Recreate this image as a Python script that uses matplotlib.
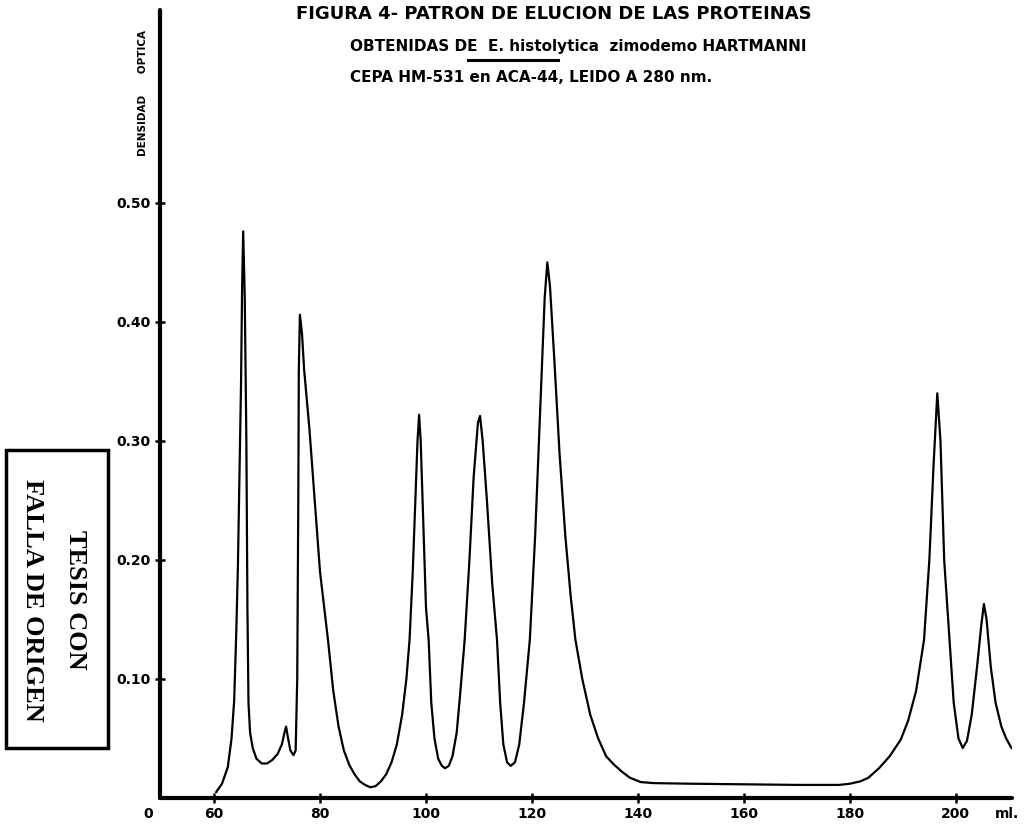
import matplotlib
matplotlib.use("Agg")
import matplotlib.pyplot as plt
from matplotlib.patches import Rectangle

# ── Data ────────────────────────────────────────────────────────────────────
volume_ml = [
    60.4, 61.5, 62.6, 63.3, 63.8, 64.2, 64.5, 64.8, 65.1, 65.3, 65.5, 65.8,
    66.1, 66.3, 66.5, 66.8, 67.3, 68.0, 69.0, 70.0, 71.0, 72.0, 72.8, 73.3,
    73.6, 73.9, 74.4, 75.0, 75.4, 75.7, 75.9, 76.0, 76.2, 76.6, 77.0, 78.0,
    79.0, 80.0, 81.5, 82.5, 83.5, 84.5, 85.5, 86.5, 87.5, 88.5, 89.5, 90.5,
    91.5, 92.5, 93.5, 94.5, 95.5, 96.3, 96.9, 97.5, 98.0, 98.4, 98.7, 99.0,
    99.5, 100.0, 100.5, 101.0, 101.6, 102.3, 103.0, 103.6, 104.3, 105.0,
    105.8, 106.5, 107.3, 108.2, 109.0, 109.8, 110.2, 110.7, 111.5, 112.5,
    113.4, 114.0, 114.6, 115.3, 116.0, 116.8, 117.6, 118.5, 119.6, 120.6,
    121.6, 122.4, 122.9, 123.4, 124.2, 125.2, 126.3, 127.3, 128.2, 129.5,
    131.0, 132.5, 134.0, 135.5, 137.0, 138.5, 140.5, 143.0, 150.0, 160.0,
    170.0, 178.0, 180.0, 182.0, 183.5, 185.5, 187.5, 189.6, 191.0, 192.5,
    194.0, 195.0, 195.8, 196.5, 197.1, 197.8, 198.8, 199.6, 200.5, 201.3,
    202.1, 203.0, 204.0, 204.8, 205.3, 205.8, 206.6, 207.5, 208.6, 209.5,
    210.5,
]
absorbance = [
    0.005, 0.012, 0.026, 0.050, 0.082, 0.140, 0.194, 0.270, 0.350, 0.430, 0.476, 0.420,
    0.300, 0.160, 0.080, 0.055, 0.042, 0.033, 0.029, 0.029, 0.032, 0.037, 0.045, 0.055,
    0.060, 0.052, 0.040, 0.036, 0.040, 0.100, 0.250, 0.360, 0.406, 0.390, 0.360, 0.310,
    0.250, 0.190, 0.133, 0.090, 0.060, 0.040, 0.028, 0.020, 0.014, 0.011, 0.009, 0.010,
    0.014, 0.020, 0.030, 0.045, 0.070, 0.100, 0.133, 0.190, 0.250, 0.300, 0.322, 0.300,
    0.230, 0.160, 0.133, 0.080, 0.050, 0.033, 0.027, 0.025, 0.027, 0.035,
    0.055, 0.090, 0.133, 0.200, 0.270, 0.315, 0.321, 0.300, 0.250, 0.180,
    0.133, 0.080, 0.045, 0.030, 0.027, 0.030, 0.045, 0.080, 0.133, 0.220,
    0.330, 0.420, 0.450, 0.430, 0.370, 0.290, 0.220, 0.170, 0.133, 0.100,
    0.070, 0.050, 0.035, 0.028, 0.022, 0.017, 0.0134, 0.0125, 0.012, 0.0115,
    0.011, 0.011, 0.012, 0.014, 0.017, 0.025, 0.035, 0.049, 0.065, 0.090,
    0.133, 0.200, 0.280, 0.340, 0.300, 0.200, 0.133, 0.080, 0.050, 0.042,
    0.048, 0.070, 0.110, 0.145, 0.163, 0.150, 0.110, 0.080, 0.060, 0.050,
    0.042,
]

x_ticks = [60, 80, 100, 120, 140, 160, 180, 200]
x_tick_labels = ["60", "80", "100", "120", "140", "160", "180", "200"]
y_ticks = [0.10, 0.20, 0.30, 0.40, 0.50]
y_tick_labels = ["0.10", "0.20", "0.30", "0.40", "0.50"]

title_lines = [
    "FIGURA 4- PATRON DE ELUCION DE LAS PROTEINAS",
    "OBTENIDAS DE  E. histolytica  zimodemo HARTMANNI",
    "CEPA HM-531 en ACA-44, LEIDO A 280 nm.",
]

# ── Figure ───────────────────────────────────────────────────────────────────
W, H = 1028, 824
fig = plt.figure(figsize=(W / 100, H / 100), dpi=100)
fig.patch.set_facecolor("white")

ax = fig.add_axes([160 / W, 26 / H, 852 / W, 788 / H])
ax.plot(volume_ml, absorbance, color="black", lw=1.6, solid_joinstyle="round")

ax.set_xlim(49.8, 210.6)
ax.set_ylim(0, 0.662)

for side in ("top", "right"):
    ax.spines[side].set_visible(False)
for side in ("left", "bottom"):
    ax.spines[side].set_linewidth(3.0)
    ax.spines[side].set_capstyle("round")

ax.set_xticks(x_ticks)
ax.set_xticklabels(x_tick_labels)
ax.set_yticks(y_ticks)
ax.set_yticklabels(y_tick_labels)
ax.tick_params(axis="both", direction="inout", length=7, width=1.8,
               labelsize=10, pad=3)
for lab in ax.get_xticklabels() + ax.get_yticklabels():
    lab.set_fontweight("bold")

# origin label of the broken axis and unit label
ax.text(-0.008, -0.012, "0", transform=ax.transAxes, ha="right", va="top",
        fontsize=10, fontweight="bold")
ax.text(209.6, -0.012, "ml.", transform=ax.get_xaxis_transform(),
        ha="center", va="top", fontsize=10, fontweight="bold")

# y-axis label
fig.text(143 / W, 1 - 93 / H, "DENSIDAD      OPTICA", rotation=90,
         ha="center", va="center", fontsize=7.5, fontweight="bold")

# ── Title block ──────────────────────────────────────────────────────────────
fig.text(296 / W, 1 - 14 / H, title_lines[0], ha="left", va="center",
         fontsize=13, fontweight="bold")
fig.text(350 / W, 1 - 47 / H, title_lines[1], ha="left", va="center",
         fontsize=11, fontweight="bold")
fig.text(350 / W, 1 - 77 / H, title_lines[2], ha="left", va="center",
         fontsize=11, fontweight="bold")
fig.add_artist(plt.Line2D([468 / W, 558 / W], [1 - 60 / H, 1 - 60 / H],
                          color="black", lw=2.2))

# ── "TESIS CON FALLA DE ORIGEN" stamp ────────────────────────────────────────
fig.add_artist(Rectangle((6 / W, 1 - 748 / H), 102 / W, 298 / H,
                         transform=fig.transFigure, fill=False,
                         edgecolor="black", lw=2.5))
fig.text(75 / W, 1 - 600 / H, "TESIS CON", rotation=-90, ha="center",
         va="center", fontsize=19, fontweight="bold", family="Liberation Serif")
fig.text(32 / W, 1 - 600 / H, "FALLA DE ORIGEN", rotation=-90, ha="center",
         va="center", fontsize=19, fontweight="bold", family="Liberation Serif")

fig.savefig("out.png", dpi=100, facecolor="white")
